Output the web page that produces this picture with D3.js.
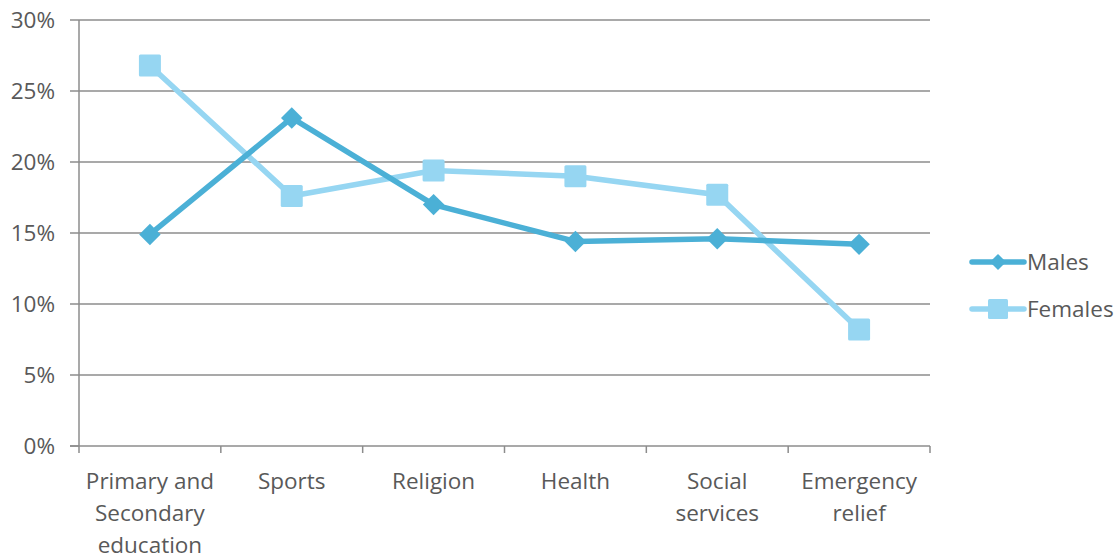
<!DOCTYPE html>
<html><head><meta charset="utf-8">
<script src="https://cdn.jsdelivr.net/npm/d3@7"></script>
<style>body{margin:0;background:#fff}svg{display:block}text{font-family:"Open Sans",sans-serif;fill:#595959}</style>
</head><body><svg id="c" width="1120" height="558"></svg>
<script>
const categories = [["Primary and","Secondary","education"],["Sports"],["Religion"],["Health"],["Social","services"],["Emergency","relief"]];
const males = [14.9, 23.1, 17.0, 14.4, 14.6, 14.2];
const females = [26.8, 17.6, 19.4, 19.0, 17.7, 8.2];
const yTicks = [0,5,10,15,20,25,30];
const seriesNames = ["Males","Females"];

(function(){
const svg = d3.select("#c");
const pL=79,pR=930,pT=20,pB=446, fs=22.5;
const x = d3.scaleBand().domain(d3.range(categories.length)).range([pL,pR]);
const y = d3.scaleLinear().domain([0,30]).range([pB,pT]);
const cx = i => x(i)+x.bandwidth()/2;

svg.append("g").selectAll("line").data(yTicks.filter(d=>d>0)).join("line")
 .attr("x1",pL).attr("x2",pR).attr("y1",d=>y(d)).attr("y2",d=>y(d))
 .attr("stroke","#8c8c8c").attr("stroke-width",1.5);
svg.append("g").selectAll("line").data(yTicks).join("line")
 .attr("x1",pL-9).attr("x2",pL).attr("y1",d=>y(d)).attr("y2",d=>y(d))
 .attr("stroke","#8c8c8c").attr("stroke-width",1.5);
svg.append("g").selectAll("text").data(yTicks).join("text")
 .attr("x",55).attr("y",d=>y(d)).attr("dy","0.36em").attr("text-anchor","end")
 .attr("font-size",fs).text(d=>d+"%");
svg.append("line").attr("x1",pL).attr("x2",pL).attr("y1",pT).attr("y2",pB).attr("stroke","#8c8c8c").attr("stroke-width",1.5);
svg.append("line").attr("x1",pL-9).attr("x2",pR).attr("y1",pB).attr("y2",pB).attr("stroke","#8c8c8c").attr("stroke-width",1.5);
const bounds = d3.range(categories.length+1).map(i=> i<categories.length? x(i) : pR);
svg.append("g").selectAll("line").data(bounds).join("line")
 .attr("x1",d=>d).attr("x2",d=>d).attr("y1",pB).attr("y2",pB+7)
 .attr("stroke","#8c8c8c").attr("stroke-width",1.5);
const xl = svg.append("g").selectAll("text").data(categories).join("text")
 .attr("text-anchor","middle").attr("font-size",fs)
 .attr("x",(d,i)=>cx(i)).attr("y",489);
xl.selectAll("tspan").data(d=>d).join("tspan")
 .attr("x",function(){return this.parentNode.getAttribute("x");})
 .attr("dy",(d,i)=>i===0?0:32).text(d=>d);

const cM="#4bb0d6", cF="#96d6f2";
const line = d3.line().x((d,i)=>cx(i)).y(d=>y(d));
svg.append("path").datum(females).attr("d",line).attr("fill","none").attr("stroke",cF).attr("stroke-width",5.5);
svg.append("path").datum(males).attr("d",line).attr("fill","none").attr("stroke",cM).attr("stroke-width",5.5);
const diamond = d3.symbol().type(d3.symbolSquare).size(230);
svg.append("g").selectAll("path").data(males).join("path")
 .attr("d",diamond()).attr("transform",(d,i)=>`translate(${cx(i)},${y(d)}) rotate(45)`).attr("fill",cM);
svg.append("g").selectAll("rect").data(females).join("rect")
 .attr("x",(d,i)=>cx(i)-11).attr("y",d=>y(d)-11).attr("width",22).attr("height",22).attr("rx",1.5).attr("fill",cF);

const leg = svg.append("g");
[[cM,262,"d"],[cF,309,"s"]].forEach((s,k)=>{
  leg.append("line").attr("x1",972).attr("x2",1024).attr("y1",s[1]).attr("y2",s[1]).attr("stroke",s[0]).attr("stroke-width",5.5).attr("stroke-linecap","round");
  if(s[2]==="d") leg.append("path").attr("d",d3.symbol().type(d3.symbolSquare).size(130)()).attr("transform",`translate(998,${s[1]}) rotate(45)`).attr("fill",s[0]);
  else leg.append("rect").attr("x",988).attr("y",s[1]-10).attr("width",20).attr("height",20).attr("rx",1.5).attr("fill",s[0]);
  leg.append("text").attr("x",1027).attr("y",s[1]).attr("dy","0.36em").attr("font-size",fs).text(seriesNames[k]);
});
})();
</script></body></html>
